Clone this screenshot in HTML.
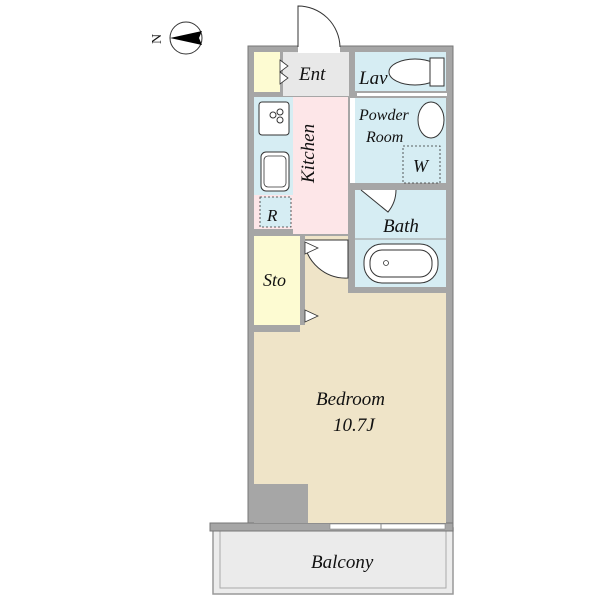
<!DOCTYPE html>
<html><head><meta charset="utf-8"><style>
body{margin:0;background:#fff}
text{font-family:"Liberation Serif",serif;font-style:italic;fill:#111}
</style></head><body>
<svg width="600" height="600" viewBox="0 0 600 600" xmlns="http://www.w3.org/2000/svg">
<circle cx="186" cy="38" r="16" fill="#fff" stroke="#333" stroke-width="1"/>
<polygon points="170,38 202,31 199,38 202,45" fill="#000"/>
<text x="150" y="43" font-size="14" transform="rotate(-90 156 38)" style="font-style:normal">N</text>
<rect x="213" y="528" width="240" height="66" fill="#ececec" stroke="#999" stroke-width="1.5"/>
<rect x="220" y="530" width="226" height="58" fill="#ebebeb" stroke="#aaa" stroke-width="1"/>
<rect x="248" y="46" width="205" height="484" fill="#a6a6a6" stroke="#777" stroke-width="1"/>
<rect x="210" y="523" width="243" height="8" fill="#a6a6a6" stroke="#777" stroke-width="1"/>
<rect x="283" y="52" width="66" height="44" fill="#e8e8e8"/>
<rect x="298" y="45" width="42" height="8" fill="#fff"/>
<path d="M298,47 L298,6 A42,42 0 0 1 340,47" fill="#fff" stroke="#333" stroke-width="1"/>
<rect x="254" y="52" width="26" height="40" fill="#fdfbd2"/>
<polygon points="280,60 288,66 280,72" fill="#fff" stroke="#333" stroke-width=".8"/>
<polygon points="280,72 288,78 280,84" fill="#fff" stroke="#333" stroke-width=".8"/>
<rect x="355" y="52" width="91" height="39" fill="#d6edf3"/>
<ellipse cx="415" cy="72" rx="26" ry="13" fill="#fff" stroke="#333" stroke-width="1"/>
<rect x="430" y="58" width="14" height="28" fill="#fff" stroke="#333" stroke-width="1"/>
<rect x="357" y="93" width="90" height="3" fill="#fff"/>
<rect x="355" y="98" width="91" height="85" fill="#d6edf3"/>
<ellipse cx="431" cy="120" rx="13" ry="18" fill="#fff" stroke="#333" stroke-width="1"/>
<rect x="403" y="146" width="37" height="37" fill="none" stroke="#333" stroke-width=".8" stroke-dasharray="2,2"/>
<rect x="350" y="98" width="5" height="85" fill="#fff"/>
<rect x="355" y="190" width="91" height="97" fill="#d6edf3"/>
<line x1="355" y1="239" x2="446" y2="239" stroke="#999" stroke-width="1"/>
<rect x="364" y="244" width="74" height="39" rx="18" fill="#fff" stroke="#333" stroke-width="1"/>
<rect x="370" y="250" width="62" height="27" rx="12" fill="none" stroke="#333" stroke-width="1"/>
<circle cx="386" cy="263" r="2.5" fill="none" stroke="#333" stroke-width=".8"/>
<path d="M361,190 L388,212 A35,35 0 0 0 396,190" fill="#fff" stroke="#333" stroke-width="1"/>
<rect x="293" y="97" width="55" height="137" fill="#fde6e8"/>
<rect x="254" y="97" width="39" height="98" fill="#d6edf3"/>
<rect x="259" y="102" width="30" height="33" rx="3" fill="#fff" stroke="#333" stroke-width="1"/>
<circle cx="273" cy="115" r="3" fill="none" stroke="#333"/><circle cx="280" cy="112" r="3" fill="none" stroke="#333"/><circle cx="280" cy="120" r="3" fill="none" stroke="#333"/>
<rect x="261" y="152" width="28" height="39" rx="5" fill="#fff" stroke="#333" stroke-width="1"/>
<rect x="264" y="156" width="22" height="31" rx="4" fill="none" stroke="#333" stroke-width=".8"/>
<rect x="254" y="195" width="39" height="34" fill="#fde6e8"/>
<rect x="260" y="197" width="31" height="30" fill="#d6edf3" stroke="#333" stroke-width=".8" stroke-dasharray="2,2"/>
<rect x="254" y="236" width="46" height="89" fill="#fdfbd2"/>
<rect x="300" y="293" width="146" height="230" fill="#efe4c8"/>
<rect x="254" y="332" width="60" height="152" fill="#efe4c8"/>
<rect x="300" y="236" width="48" height="60" fill="#efe4c8"/>
<rect x="254" y="484" width="54" height="39" fill="#a6a6a6"/>
<path d="M304,240 L348,240 L348,278 A42,42 0 0 1 304,240 Z" fill="#fff" stroke="#333" stroke-width="1"/>
<rect x="300" y="236" width="5" height="89" fill="#a6a6a6"/>
<polygon points="305,242 318,248 305,254" fill="#fff" stroke="#333" stroke-width=".8"/>
<polygon points="305,310 318,316 305,322" fill="#fff" stroke="#333" stroke-width=".8"/>
<rect x="330" y="524" width="115" height="5" fill="#fff" stroke="#888" stroke-width=".6"/>
<line x1="381" y1="524" x2="381" y2="529" stroke="#888"/>
<text x="299" y="80" font-size="19">Ent</text>
<text x="359" y="84" font-size="19">Lav</text>
<text x="359" y="120" font-size="16">Powder</text>
<text x="366" y="142" font-size="16">Room</text>
<text x="413" y="172" font-size="18">W</text>
<text x="383" y="232" font-size="19">Bath</text>
<text x="267" y="221" font-size="17">R</text>
<text x="263" y="286" font-size="18">Sto</text>
<text x="314" y="183" font-size="19" transform="rotate(-90 314 183)">Kitchen</text>
<text x="316" y="405" font-size="19">Bedroom</text>
<text x="333" y="431" font-size="19">10.7J</text>
<text x="311" y="568" font-size="19">Balcony</text>
</svg>
</body></html>
